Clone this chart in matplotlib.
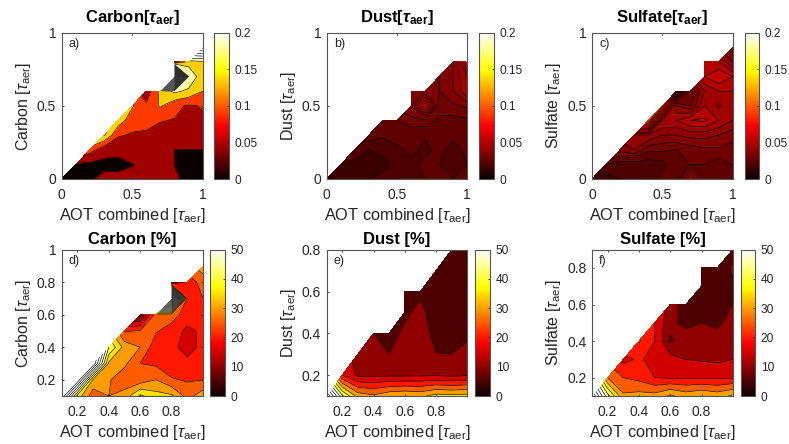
import numpy as np
import matplotlib
matplotlib.use("Agg")
import matplotlib.pyplot as plt
from matplotlib.cm import ScalarMappable
from matplotlib.colors import Normalize

plt.rcParams['font.family'] = ['Liberation Sans', 'DejaVu Sans']
plt.rcParams['mathtext.fontset'] = 'custom'
plt.rcParams['mathtext.rm'] = 'Liberation Sans'
plt.rcParams['mathtext.it'] = 'Liberation Sans:italic'
plt.rcParams['mathtext.bf'] = 'Liberation Sans:bold'
plt.rcParams['mathtext.bfit'] = 'Liberation Sans:italic:bold'

n = np.nan

# valeurs, une ligne par y, une colonne par x
x_top = [0, .1, .2, .3, .4, .5, .6, .7, .8, .9, 1]
y_top = [0, .1, .2, .3, .4, .5, .6, .7, .8, .9]
x_bot = [.1, .2, .3, .4, .5, .6, .7, .8, .9, 1]
y_bot = [.1, .2, .3, .4, .5, .6, .7, .8, .9]

carbon_aod = [
    [.03, .03, .04, .055, .055, .05, .05, .05, .048, .04, .04],
    [n, .04, .035, .035, .035, .044, .05, .06, .0445, .03, .03],
    [n, n, .11, .06, .055, .06, .065, .07, .0445, .0445, .0445],
    [n, n, n, .185, .095, .085, .08, .075, .07, .065, .06],
    [n, n, n, n, .16, .11, .11, .092, .088, .08, .08],
    [n, n, n, n, n, .14, .1, .14, .1, .085, .093],
    [n, n, n, n, n, n, .06, .15, .19, .17, .135],
    [n, n, n, n, n, n, n, n, 1.0, .22, .15],
    [n, n, n, n, n, n, n, n, .05, .16, .17],
    [n, n, n, n, n, n, n, n, n, n, .42],
]
dust_aod = [
    [.013, .017, .02, .02, .021, .023, .025, .025, .026, .025, .026],
    [n, .02, .019, .019, .019, .021, .024, .026, .025, .024, .025],
    [n, n, .022, .02, .021, .024, .026, .024, .026, .0235, .026],
    [n, n, n, .028, .026, .027, .026, .0255, .026, .026, .026],
    [n, n, n, n, .03, .03, .033, .033, .029, .028, .029],
    [n, n, n, n, n, n, .04, .065, .032, .034, .036],
    [n, n, n, n, n, n, .04, .04, .035, .04, .05],
    [n, n, n, n, n, n, n, n, .035, .04, .05],
    [n, n, n, n, n, n, n, n, n, .038, .07],
]
sulfate_aod = [
    [.015, .017, .02, .022, .023, .027, .028, .05, .03, .03, .03],
    [n, .025, .022, .022, .022, .023, .03, .03, .03, .027, .03],
    [n, n, .037, .04, .031, .031, .03, .032, .034, .034, .033],
    [n, n, n, .045, .045, .04, .04, .042, .042, .04, .037],
    [n, n, n, n, .1, .05, .05, .055, .056, .05, .045],
    [n, n, n, n, n, .09, .04, .035, .05, .044, .05],
    [n, n, n, n, n, n, .012, .03, .045, .05, .05],
    [n, n, n, n, n, n, n, n, .055, .06, .055],
    [n, n, n, n, n, n, n, n, .055, .05, .04],
    [n, n, n, n, n, n, n, n, n, n, .03],
]
carbon_pct = [
    [70, 38, 27, 30, 32, 41, 37, 36, 28, 33],
    [n, 70, 34, 30.5, 27, 27, 30, 25.5, 24.5, 25],
    [n, n, 70, 34, 31, 25, 24, 22, 21, 22],
    [n, n, n, 45, 33, 30, 22, 21, 18.5, 21],
    [n, n, n, n, 24.5, 25.5, 25.5, 23, 18.7, 21],
    [n, n, n, n, n, 8, 27, 27, 23, 23],
    [n, n, n, n, n, n, n, 110, 23, 25],
    [n, n, n, n, n, n, n, 10, 22, 27],
    [n, n, n, n, n, n, n, n, n, 33],
]
dust_pct = [
    [70, 46, 33, 31, 34, 35, 34, 37, 36.5, 37],
    [n, 20, 14, 13.7, 14, 14, 14.3, 14.5, 13.7, 14.5],
    [n, n, 12, 11, 10, 11, 11.5, 10.1, 10, 11],
    [n, n, n, 10, 8, 11, 12, 8.5, 8, 9.4],
    [n, n, n, n, n, 9, 11.5, 7, 6, 6],
    [n, n, n, n, n, 6, 9, 6, 6, 6],
    [n, n, n, n, n, n, n, 6, 6, 6],
    [n, n, n, n, n, n, n, n, 6, 6],
]
sulfate_pct = [
    [70, 47, 31, 32, 32, 36, 33, 35, 33, 36],
    [n, 30, 25, 23.5, 20, 19.5, 19.5, 19.5, 19.3, 19.8],
    [n, n, 18.5, 20.8, 18, 17, 15, 14.5, 14, 15],
    [n, n, n, 25.5, 20, 9.5, 12, 11, 11, 11.5],
    [n, n, n, n, 20, 11, 9, 10, 9.5, 11],
    [n, n, n, n, n, 13, 7, 6, 6, 10],
    [n, n, n, n, n, n, n, 6, 6, 9],
    [n, n, n, n, n, n, n, 6, 6, 11],
    [n, n, n, n, n, n, n, n, n, 6],
]

titles = [r'Carbon[$\mathbfit{\tau}_{\mathbf{aer}}$]', r'Dust[$\mathbfit{\tau}_{\mathbf{aer}}$]',
          r'Sulfate[$\mathbfit{\tau}_{\mathbf{aer}}$]', 'Carbon [%]', 'Dust [%]', 'Sulfate [%]']
species = ['Carbon', 'Dust', 'Sulfate', 'Carbon', 'Dust', 'Sulfate']
letters = ['a)', 'b)', 'c)', 'd)', 'e)', 'f)']

W, H = 789, 444
fig = plt.figure(figsize=(W/100, H/100), dpi=100)
txt = '#262626'


def px_axes(x0, x1, y0, y1):
    # position en pixels -> fraction de figure
    return fig.add_axes([x0/W, 1-y1/H, (x1-x0)/W, (y1-y0)/H])


def panel(i, x, y, z, levels, vmax, pos, cpos, xlim, ylim, xticks, yticks, cticks):
    ax = px_axes(*pos)
    z = np.ma.masked_invalid(np.array(z, dtype=float))
    norm = Normalize(0, vmax)
    cmap = plt.get_cmap('hot')
    # comme matlab: chaque zone prend la couleur de son niveau bas
    cols = [cmap(norm(l)) for l in levels[:-1]]
    ax.contourf(x, y, z, levels=levels, colors=cols)
    ax.contour(x, y, z, levels=levels, colors='k', linewidths=0.45)
    ax.set_xlim(xlim)
    ax.set_ylim(ylim)
    ax.set_xticks(xticks)
    ax.set_yticks(yticks)
    ax.set_xticklabels([f'{t:g}' for t in xticks])
    ax.set_yticklabels([f'{t:g}' for t in yticks])
    ax.tick_params(direction='in', length=1.5, width=0.6, labelsize=10, colors=txt, pad=4, top=True, right=True)
    ax.tick_params(axis='x', pad=6.5)
    for s in ax.spines.values():
        s.set_color('#555555')
        s.set_linewidth(0.8)
    ax.set_xlabel(r'AOT combined [$\tau_{\mathrm{aer}}$]', fontsize=11.8, color=txt, labelpad=3)
    ax.set_ylabel(species[i] + r' [$\tau_{\mathrm{aer}}$]', fontsize=11.5, color=txt, labelpad=3)
    ax.set_title(titles[i], fontsize=12, fontweight='bold', color='k', pad=7.5 if i < 3 else 4)
    ax.text(0.05, 0.925, letters[i], transform=ax.transAxes, fontsize=9, color=txt, va='center')

    cax = px_axes(*cpos)
    cb = fig.colorbar(ScalarMappable(norm=norm, cmap=cmap), cax=cax)
    cb.set_ticks(cticks)
    cb.set_ticklabels([f'{t:g}' for t in cticks])
    cb.ax.tick_params(direction='in', length=1.5, width=0.6, labelsize=8.6, colors=txt, pad=4)
    cb.outline.set_edgecolor('#555555')
    cb.outline.set_linewidth(0.8)


lev_a = np.arange(0, 3, .045)
lev_b = np.arange(0, .4, .005)
lev_p = np.arange(0, 200, 5)
t_top = [0, .5, 1]
c_top = [0, .05, .1, .15, .2]
c_bot = [0, 10, 20, 30, 40, 50]
t_bot = [.2, .4, .6, .8]

panel(0, x_top, y_top, carbon_aod, lev_a, .2, (61.7, 202.8, 32.7, 179), (214, 229, 32.7, 179), (0, 1), (0, 1), t_top, t_top, c_top)
panel(1, x_top, y_top[:9], dust_aod, lev_b, .2, (326.7, 467.3, 32.7, 179), (479.3, 494, 32.7, 179), (0, 1), (0, 1), t_top, t_top, c_top)
panel(2, x_top, y_top, sulfate_aod, lev_b, .2, (592, 732.8, 32.7, 179), (744.7, 759.3, 32.7, 179), (0, 1), (0, 1), t_top, t_top, c_top)
panel(3, x_bot, y_bot, carbon_pct, lev_p, 50, (61.7, 203, 249.7, 396), (210, 224.7, 249.7, 396), (.1, 1), (.1, 1), t_bot, [.2, .4, .6, .8, 1], c_bot)
panel(4, x_bot, y_bot[:8], dust_pct, lev_p, 50, (326.7, 467.3, 249.7, 396), (475.3, 490, 249.7, 396), (.1, 1), (.1, .8), t_bot, t_bot, c_bot)
panel(5, x_bot, y_bot, sulfate_pct, lev_p, 50, (592, 732.8, 249.7, 396), (740.7, 755.3, 249.7, 396), (.1, 1), (.1, .9), t_bot, t_bot, c_bot)

fig.savefig('out.png', dpi=100)
